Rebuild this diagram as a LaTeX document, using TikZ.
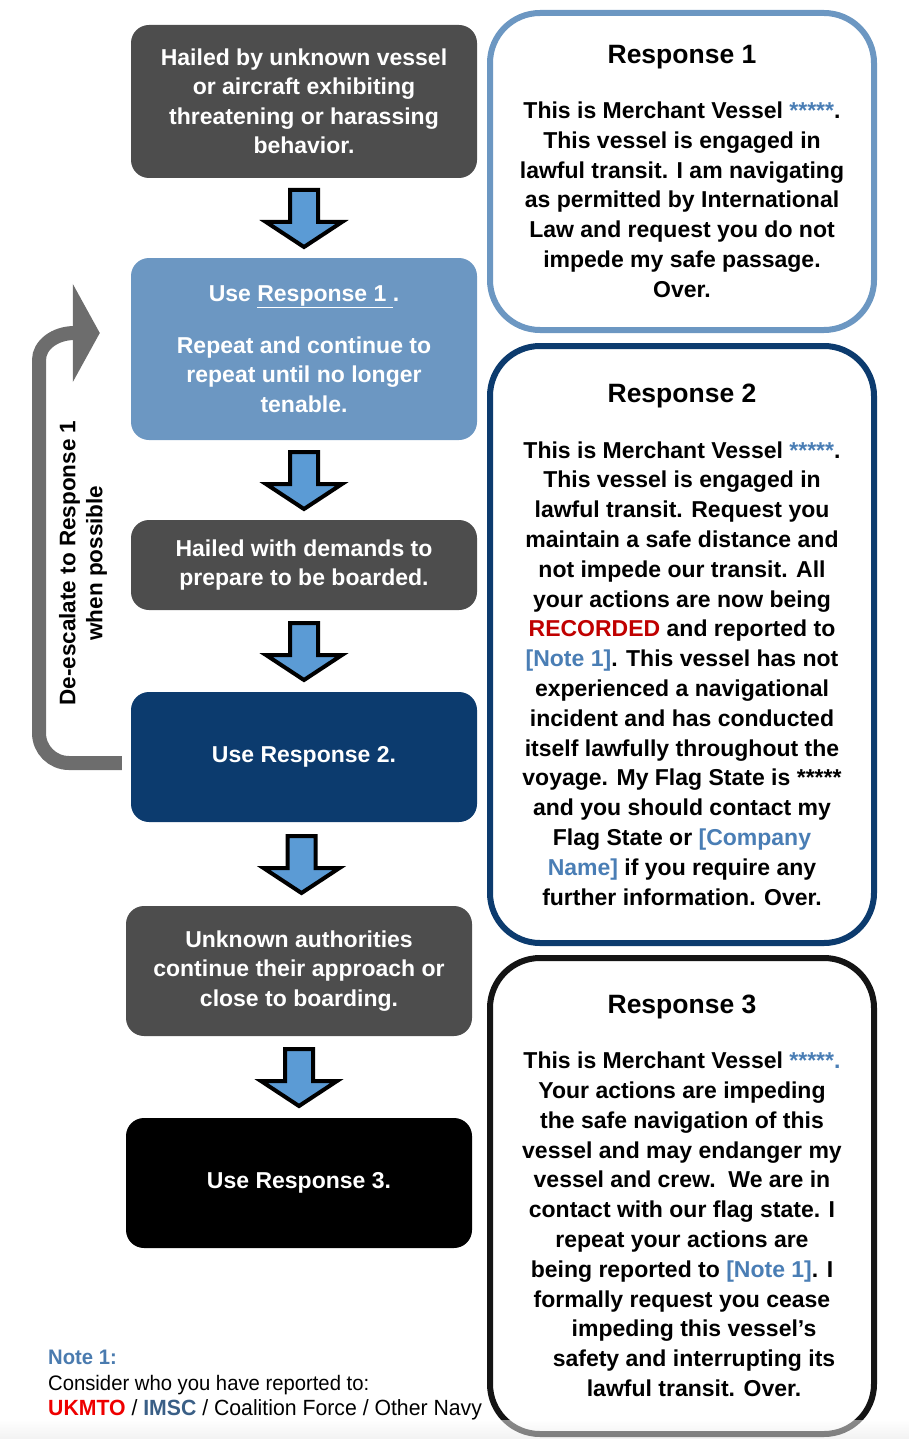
\documentclass[tikz,border=0pt]{standalone}
\usepackage{fontspec}
\setmainfont{Liberation Sans}
\newfontfamily\notefont[FakeStretch=0.965]{Liberation Sans}
\usetikzlibrary{calc,arrows.meta}

\definecolor{boxgray}{HTML}{4D4D4D}
\definecolor{boxblue}{HTML}{6C97C2}
\definecolor{boxnavy}{HTML}{0C3B6E}
\definecolor{arrowfill}{HTML}{5B9BD5}
\definecolor{backgray}{HTML}{6D6D6D}
\definecolor{linkblue}{HTML}{4A7EB5}
\definecolor{notecol}{HTML}{4A7BAF}
\definecolor{recred}{HTML}{C00000}
\definecolor{ukred}{HTML}{EE0000}
\definecolor{imscblue}{HTML}{3A5F86}

\newcommand{\stars}{\textcolor{linkblue}{*****}}
\newcommand{\blockdown}[2]{%
  \coordinate (mid) at ($(#1.south)!0.5!(#2.north)$);
  \filldraw[blockarrow] ($(mid)+(-14,-28)$) -- ($(mid)+(14,-28)$) -- ($(mid)+(14,4)$)
    -- ($(mid)+(38,4)$) -- ($(mid)+(0,29)$) -- ($(mid)+(-38,4)$) -- ($(mid)+(-14,4)$) -- cycle;}

\begin{document}
\begin{tikzpicture}[x=1pt,y=-1pt,
  stepbox/.style={rounded corners=18pt, minimum width=346pt, text=white, align=center,
    font=\fontsize{23}{29.5}\selectfont\bfseries, inner sep=0pt},
  respbox/.style={draw, line width=6pt, rounded corners=50pt, fill=white, minimum width=384pt,
    align=center, font=\fontsize{23}{29.8}\selectfont\bfseries, inner sep=0pt},
  blockarrow/.style={draw=black, fill=arrowfill, line width=4pt, line join=miter},
  backarrow/.style={draw=backgray, line width=14pt, rounded corners=30pt,
    -{Triangle[width=97pt,length=27pt]}}]
\useasboundingbox (0,0) rectangle (909,1439);

\node[stepbox, fill=boxgray, minimum height=153pt] (hail) at (304,101.5)
  {Hailed by unknown vessel\\or aircraft exhibiting\\threatening or harassing\\behavior.};
\node[stepbox, fill=boxblue, minimum height=182pt] (use1) at (304,349)
  {Use \underline{Response 1\ }.\\[22.5pt]Repeat and continue to\\repeat until no longer\\tenable.};
\node[stepbox, fill=boxgray, minimum height=90pt] (board) at (304,565)
  {Hailed with demands to\\prepare to be boarded.};
\node[stepbox, fill=boxnavy, minimum height=130pt] (use2) at (304,757) {Use Response 2.};
\node[stepbox, fill=boxgray, minimum height=130pt] (close) at (299,971)
  {Unknown authorities\\continue their approach or\\close to boarding.};
\node[stepbox, fill=black, minimum height=130pt] (use3) at (299,1183) {Use Response 3.};

\foreach \a/\b in {hail/use1, use1/board, board/use2, use2/close, close/use3}
  {\blockdown{\a}{\b}}

\draw[backarrow] ([xshift=-9pt,yshift=-6pt]use2.west) -- (39,763) -- (39,390)
  .. controls (39,345) and (55,333) .. ([xshift=-31pt,yshift=16pt]use1.west);
\node[rotate=90, align=center, font=\fontsize{22.5}{27}\selectfont\bfseries] (deesc) at (83,563)
  {De-escalate to Response 1\\when possible};

\node[respbox, draw=boxblue, minimum height=317pt] (resp1) at (682,171.5)
  {{\fontsize{26.5}{30}\selectfont Response 1}\\[25pt]
   This is Merchant Vessel \stars.\\This vessel is engaged in\\lawful transit. I am navigating\\
   as permitted by International\\Law and request you do not\\impede my safe passage.\\Over.};
\node[respbox, draw=boxnavy, minimum height=597pt] (resp2) at (682,644.5)
  {{\fontsize{26.5}{30}\selectfont Response 2}\\[26pt]
   This is Merchant Vessel \stars.\\This vessel is engaged in\\lawful transit. Request you\\
   maintain a safe distance and\\not impede our transit. All\\your actions are now being\\
   \textcolor{recred}{RECORDED} and reported to\\\textcolor{linkblue}{[Note 1]}. This vessel has not\\
   experienced a navigational\\incident and has conducted\\itself lawfully throughout the\\
   voyage. My Flag State is *****\\and you should contact my\\Flag State or \textcolor{linkblue}{[Company}\\
   \textcolor{linkblue}{Name]} if you require any\\further information. Over.};
\node[respbox, draw=black!92, minimum height=476pt] (resp3) at (682,1196)
  {{\fontsize{26.5}{30}\selectfont Response 3}\\[25pt]
   This is Merchant Vessel \textcolor{linkblue}{*****.}\\Your actions are impeding\\
   the safe navigation of this\\vessel and may endanger my\\vessel and crew.\ \ We are in\\
   contact with our flag state. I\\repeat your actions are\\
   being reported to \textcolor{linkblue}{[Note 1]}. I\\formally request you cease\\
   \hspace*{24pt}impeding this vessel’s\\\hspace*{24pt}safety and interrupting its\\
   \hspace*{24pt}lawful transit. Over.};

\node[anchor=north west, align=left, inner sep=0pt, font=\notefont\fontsize{21}{25.5}\selectfont]
  (note) at (48,1350)
  {\textcolor{notecol}{\bfseries Note 1:}\\Consider who you have reported to:\\
   {\fontsize{22}{25.5}\selectfont\textcolor{ukred}{\bfseries UKMTO} / \textcolor{imscblue}{\bfseries IMSC}
   / Coalition Force / Other Navy}};

\shade[top color=white, bottom color=black!10, fill opacity=0.5] (0,1420) rectangle (909,1439);
\end{tikzpicture}
\end{document}
